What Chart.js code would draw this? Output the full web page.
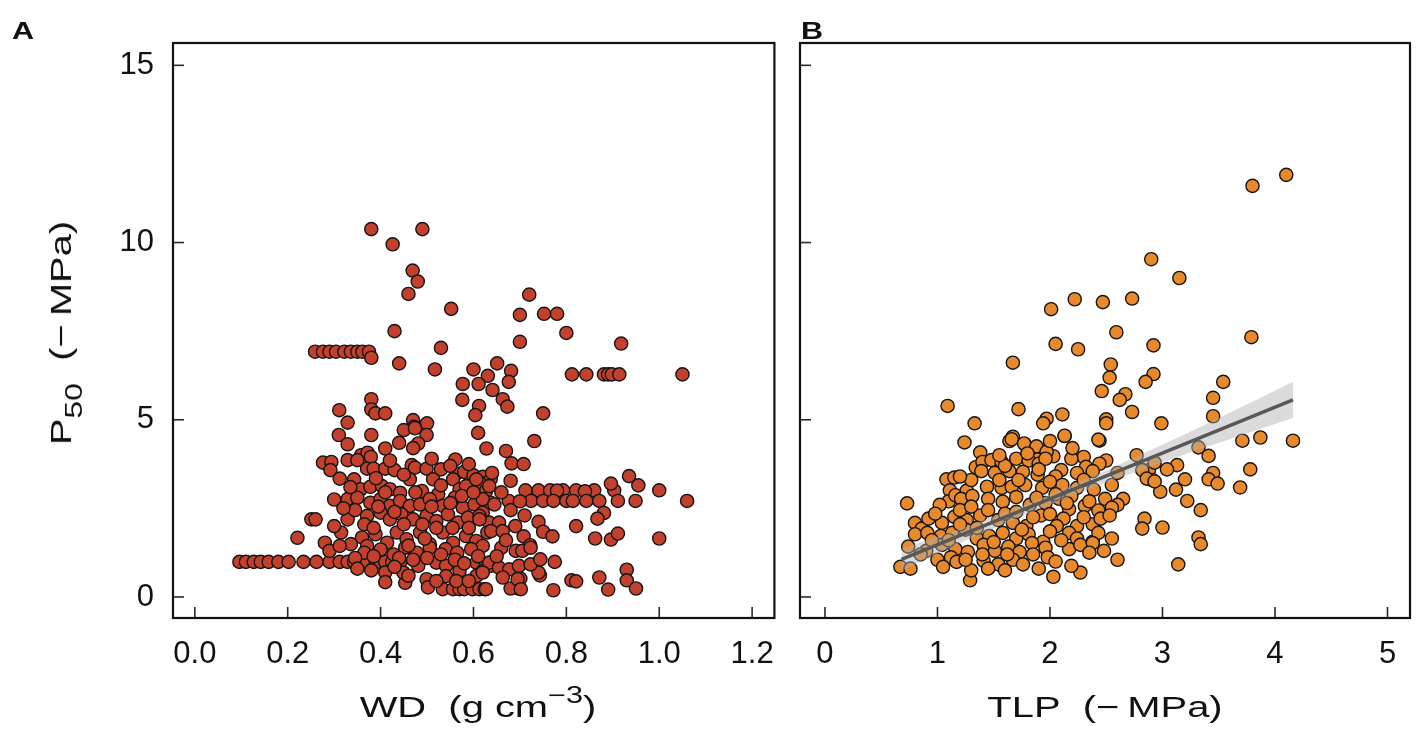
<!DOCTYPE html>
<html>
<head>
<meta charset="utf-8">
<script src="https://cdn.jsdelivr.net/npm/chart.js@4.4.1/dist/chart.umd.min.js"></script>
<style>
  html, body { margin: 0; padding: 0; background: #fff; }
  body { width: 1421px; height: 750px; position: relative; overflow: hidden; font-family: "Liberation Sans", Arial, sans-serif; color: #111; }
  .panel { position: absolute; top: 0; height: 750px; }
  #wrapA { left: 0; width: 792px; }
  #wrapB { left: 792px; width: 629px; }
  .tag { position: absolute; font-weight: bold; font-size: 23px; line-height: 23px; transform: scaleX(1.33); transform-origin: left top; }
  .axt { position: absolute; font-size: 30px; line-height: 30px; white-space: nowrap; }
  .axt sub { font-size: 24px; line-height: 0; vertical-align: -11px; }
  .axt sup { font-size: 23px; line-height: 0; vertical-align: 14px; }
</style>
</head>
<body>
<div class="panel" id="wrapA"><canvas id="chartA"></canvas></div>
<div class="panel" id="wrapB"><canvas id="chartB"></canvas></div>

<div class="tag" style="left:12px; top:20px;">A</div>
<div class="tag" style="left:801px; top:20px;">B</div>
<div class="axt" style="left:61px; top:333px; transform:translate(-50%,-50%) rotate(-90deg) scaleX(1.33);">P<sub>50</sub>&nbsp;&nbsp;(−&thinsp;MPa)</div>
<div class="axt" style="left:478px; top:692px; transform:translateX(-50%) scaleX(1.33);">WD&nbsp;&nbsp;(g cm<sup>−3</sup>)</div>
<div class="axt" style="left:1105px; top:692px; transform:translateX(-50%) scaleX(1.33);">TLP&nbsp;&nbsp;(−&thinsp;MPa)</div>

<script>
// ---- panel A: wood density vs P50 ----
const wdX = [
  0.38, 0.49, 0.426, 0.469, 0.48, 0.46, 0.552, 0.72, 0.70, 0.752, 0.78, 0.80, 0.43, 0.70, 0.53, 0.918,
  0.259, 0.276, 0.29, 0.304, 0.322, 0.336, 0.35, 0.361, 0.375, 0.38,
  0.44, 0.517, 0.60, 0.651, 0.681, 0.676, 0.631, 0.611, 0.577, 0.641, 0.576, 0.612, 0.604, 0.663, 0.673, 0.75,
  0.812, 0.843, 0.881, 0.89, 0.898, 0.914, 1.05,
  0.38, 0.38, 0.389, 0.41, 0.311, 0.329, 0.47, 0.472, 0.50, 0.45, 0.474, 0.499, 0.481, 0.61, 0.31, 0.329,
  0.38, 0.41, 0.628, 0.731, 0.67, 0.682, 0.708, 0.935, 0.955, 1.0, 1.06, 0.561, 0.358, 0.372, 0.379,
  0.276, 0.294, 0.292, 0.312, 0.329, 0.30, 0.251, 0.26, 0.221,
  0.096, 0.11, 0.127, 0.142, 0.159, 0.18, 0.202, 0.234, 0.262, 0.29, 0.312, 0.329, 0.343, 0.36, 0.371, 0.39, 0.40, 0.41, 0.425, 0.442,
  0.68, 0.712, 0.74, 0.765, 0.793, 0.821, 0.86, 0.903, 0.896, 0.78, 0.84,
  0.62, 0.676, 0.724, 0.75, 0.772, 0.8, 0.814, 0.843, 0.871, 0.911, 0.949,
  0.881, 0.867, 0.821, 0.862, 0.896, 0.911, 1.0, 0.74, 0.75, 0.77, 0.708, 0.722, 0.775, 0.743, 0.701, 0.697,
  0.68, 0.772, 0.811, 0.821, 0.871, 0.93, 0.93, 0.89, 0.95,
  0.35, 0.371, 0.385, 0.41, 0.43, 0.467, 0.474, 0.499, 0.53, 0.563, 0.58, 0.60, 0.62, 0.637,
  0.343, 0.357, 0.378, 0.403, 0.42, 0.442, 0.463, 0.489, 0.513, 0.524, 0.556, 0.57, 0.584, 0.613, 0.627,
  0.329, 0.35, 0.378, 0.40, 0.42, 0.442, 0.463, 0.485, 0.506, 0.534, 0.56, 0.577, 0.602, 0.62, 0.637,
  0.329, 0.371, 0.40, 0.42, 0.445, 0.47, 0.499, 0.52, 0.545, 0.567, 0.588, 0.613, 0.634,
  0.28, 0.315, 0.336, 0.36, 0.389, 0.414, 0.435, 0.456, 0.485, 0.506, 0.534, 0.556, 0.584, 0.606, 0.63,
  0.29, 0.312, 0.371, 0.40, 0.428, 0.453, 0.478, 0.506, 0.52, 0.541, 0.57, 0.606, 0.627, 0.637,
  0.41, 0.41, 0.453, 0.449, 0.481, 0.499, 0.502, 0.534, 0.556, 0.57, 0.58, 0.598, 0.613, 0.624, 0.541, 0.563, 0.606, 0.62, 0.637,
  0.606, 0.634, 0.62, 0.645, 0.613, 0.655, 0.638, 0.663, 0.62, 0.66, 0.691, 0.634, 0.655, 0.677, 0.698, 0.62, 0.663, 0.695, 0.627, 0.702, 0.74, 0.723, 0.705, 0.723, 0.744,
  0.345, 0.365, 0.385, 0.395, 0.41, 0.43, 0.45, 0.46, 0.475, 0.49, 0.495, 0.51, 0.52, 0.53, 0.54, 0.55, 0.555, 0.565, 0.575, 0.59,
  0.595, 0.6, 0.61, 0.365, 0.385, 0.345, 0.3, 0.32, 0.335, 0.44, 0.47, 0.5, 0.53, 0.56, 0.58, 0.35, 0.38, 0.43, 0.46, 0.52,
  0.59, 0.65, 0.67, 0.69, 0.68, 0.66, 0.7, 0.71, 0.64, 0.45, 0.39, 0.42, 0.51, 0.47, 0.44, 0.55, 0.59
];
const wdY = [
  10.38, 10.38, 9.95, 9.21, 8.9, 8.55, 8.13, 8.53, 7.96, 7.99, 7.99, 7.45, 7.5, 7.2, 7.03, 7.15,
  6.92, 6.92, 6.92, 6.92, 6.92, 6.92, 6.92, 6.92, 6.92, 6.75,
  6.59, 6.42, 6.42, 6.59, 6.38, 6.07, 6.24, 6.01, 6.01, 5.84, 5.56, 5.39, 5.13, 5.58, 5.37, 5.18,
  6.28, 6.28, 6.28, 6.28, 6.28, 6.28, 6.28,
  5.58, 5.29, 5.18, 5.18, 5.27, 4.92, 4.99, 4.80, 4.90, 4.71, 4.76, 4.57, 4.33, 4.63, 4.57, 4.31,
  4.57, 4.19, 4.19, 4.40, 4.12, 3.77, 3.75, 3.41, 3.15, 3.01, 2.71, 3.88, 4.0, 4.07, 3.95,
  3.79, 3.81, 3.58, 3.34, 3.86, 2.75, 2.19, 2.19, 1.67,
  0.99, 0.99, 0.99, 0.99, 0.99, 0.99, 0.99, 0.99, 0.99, 0.99, 0.99, 0.99, 0.99, 0.99, 0.99, 0.99, 0.99, 0.99, 0.99, 0.99,
  3.28, 3.01, 3.01, 3.01, 3.01, 3.01, 3.01, 3.01, 3.2, 3.0, 2.98,
  2.71, 2.71, 2.71, 2.71, 2.71, 2.71, 2.71, 2.71, 2.71, 2.71, 2.71,
  2.37, 2.21, 2.0, 1.65, 1.62, 1.79, 1.65, 2.12, 1.84, 1.71, 1.71, 1.46, 0.99, 0.61, 0.52, 0.24,
  0.24, 0.19, 0.47, 0.44, 0.55, 0.77, 0.47, 0.21, 0.24,
  3.86, 3.62, 3.62, 3.62, 3.58, 3.72, 3.65, 3.62, 3.60, 3.48, 3.53, 3.43, 3.39, 3.32,
  3.32, 3.04, 3.11, 3.13, 3.04, 2.94, 3.32, 2.99, 3.32, 2.90, 3.32, 3.04, 3.13, 3.23, 2.99,
  2.76, 2.80, 2.66, 2.76, 2.57, 2.71, 2.57, 2.61, 2.76, 2.57, 2.80, 2.52, 2.61, 2.38, 2.66,
  2.19, 2.29, 2.38, 2.19, 2.33, 2.19, 2.29, 2.14, 2.33, 2.10, 2.24, 2.29, 2.10,
  1.53, 1.82, 1.49, 1.68, 1.77, 1.53, 1.82, 1.63, 1.82, 1.49, 1.82, 1.53, 1.72, 1.58, 1.82,
  1.30, 1.44, 1.44, 1.34, 1.20, 1.39, 1.25, 1.39, 0.97, 0.88, 0.74, 0.97, 0.92, 0.97,
  0.69, 0.42, 0.40, 0.69, 0.88, 0.50, 0.27, 0.22, 0.22, 0.22, 0.22, 0.22, 0.22, 0.22, 0.59, 0.45, 0.59, 0.73, 0.88,
  3.32, 3.13, 2.76, 2.61, 2.19, 2.10, 1.86, 1.86, 1.44, 1.39, 1.30, 0.97, 0.83, 0.78, 0.88, 0.69, 0.55, 0.50, 0.22, 0.22, 0.69, 0.92, 1.30, 1.39, 1.06,
  2.45, 2.05, 1.95, 2.55, 2.95, 2.40, 2.05, 1.45, 2.95, 2.05, 1.65, 2.55, 1.95, 3.15, 1.35, 2.65, 1.95, 1.25, 2.85, 1.95,
  1.35, 2.95, 1.15, 1.25, 1.15, 1.1, 2.0, 2.5, 3.1, 1.1, 1.05, 1.1, 1.2, 1.05, 0.95, 0.8, 0.75, 0.85, 0.6, 0.45,
  0.45, 1.15, 1.6, 2.0, 2.45, 2.95, 2.7, 2.3, 3.5, 3.45, 3.35, 3.85, 3.9, 4.2, 4.35, 3.7, 3.75
];

// ---- panel B: turgor loss point vs P50 ----
const tlpX = [
  4.10, 3.80, 2.90, 3.15, 3.79, 2.92, 2.92, 2.85, 3.54, 3.45, 3.45, 2.99, 3.71, 3.87, 4.16, 3.32, 3.41, 3.78, 3.13, 3.04,
  2.88, 2.93, 3.45, 3.41, 3.49, 3.20, 3.12, 2.98, 2.91, 3.69, 3.22, 3.34, 2.84, 3.00, 3.32, 3.34, 3.14, 2.82,
  2.01, 2.22, 2.47, 2.73, 2.59, 2.05, 2.25, 1.67, 2.54, 2.53, 2.46, 2.67, 2.62, 2.73, 1.09, 1.33, 1.72, 1.97, 1.94, 2.11,
  2.50, 2.50, 1.24, 1.38, 1.34, 1.67, 1.64, 2.13, 2.44, 1.78, 1.88, 1.97, 2.03, 1.89, 2.77, 2.30, 2.50,
  1.08, 1.15, 1.11, 1.10, 0.73, 0.80, 0.67, 0.76, 1.29, 2.03, 2.27,
  1.66, 1.77, 1.88, 1.97, 2.13, 2.43,
  1.40, 1.48, 1.57, 1.70, 1.81, 1.90, 1.96, 2.19, 2.44, 2.32, 2.10,
  1.39, 1.51, 1.64, 1.76, 1.89, 2.05, 2.24, 2.38, 2.60, 2.82, 2.86, 2.93,
  1.16, 1.26, 1.44, 1.57, 1.66, 1.78, 1.93, 2.11, 2.24, 2.39, 2.55, 2.49, 2.65, 2.60,
  1.02, 1.21, 1.31, 1.45, 1.58, 1.70, 1.82, 1.96, 2.08, 2.19, 2.17, 2.31, 2.43, 2.55,
  0.86, 0.92, 1.04, 1.15, 1.26, 1.38, 1.54, 1.67, 1.79, 1.92, 2.00, 2.12, 2.24, 2.38, 2.45, 2.53,
  0.80, 0.91, 1.03, 1.13, 1.25, 1.35, 1.46, 1.58, 1.70, 1.81, 1.94, 2.06, 2.17, 2.24, 2.38, 2.43, 2.55,
  0.74, 0.90, 1.04, 1.16, 1.27, 1.41, 1.51, 1.63, 1.73, 1.84, 1.96, 2.17, 2.27, 2.38,
  1.00, 1.12, 1.17, 1.41, 1.54, 1.67, 1.76, 1.98, 2.19,
  1.20, 1.30, 1.35, 1.45, 1.50, 1.60, 1.62, 1.70, 1.75, 1.85, 1.85, 1.88, 2.00, 2.05, 2.10, 2.15, 2.30, 2.35, 2.48, 2.60,
  1.30, 1.55, 1.72, 2.00, 2.30, 1.10, 0.95, 0.85, 1.05, 1.30, 1.45, 1.60, 1.90, 1.25, 0.98, 1.20, 1.40, 2.05, 2.35, 1.90,
  1.60, 1.20, 1.55, 1.80, 2.20, 2.00
];
const tlpY = [
  11.91, 11.6, 9.53, 9.0, 7.33, 7.10, 6.29, 6.07, 6.07, 5.62, 5.10, 4.90, 4.41, 4.50, 4.41, 4.22, 3.98, 3.60, 3.72, 3.60,
  3.58, 3.79, 3.50, 3.32, 3.20, 3.32, 3.03, 2.97, 3.30, 3.09, 2.71, 2.45, 2.21, 1.96, 1.68, 1.49, 0.92, 1.93,
  8.12, 8.40, 8.32, 8.42, 7.47, 7.14, 6.99, 6.61, 6.56, 6.19, 5.81, 5.72, 5.56, 5.22, 5.39, 4.90, 5.30, 5.03, 4.90, 5.15,
  5.01, 4.90, 4.36, 4.08, 3.66, 4.52, 4.40, 4.54, 4.41, 4.29, 4.21, 4.06, 3.97, 3.88, 4.00, 3.95, 3.85,
  3.32, 3.37, 3.01, 2.70, 2.64, 2.09, 0.85, 0.80, 0.47, 0.57, 0.69,
  4.45, 4.33, 4.25, 4.10, 4.55, 4.44,
  3.81, 3.86, 3.81, 3.90, 3.85, 3.76, 3.90, 3.90, 3.76, 3.67, 3.58,
  3.55, 3.50, 3.55, 3.53, 3.45, 3.40, 3.50, 3.55, 3.50, 3.58, 3.34, 3.26,
  2.87, 3.00, 3.11, 3.08, 3.11, 3.16, 3.08, 3.16, 3.08, 3.03, 3.16, 2.77, 2.77, 2.60,
  2.60, 2.77, 2.85, 2.77, 2.69, 2.82, 2.60, 2.65, 2.77, 2.85, 2.48, 2.57, 2.44, 2.52,
  1.93, 2.21, 2.09, 2.26, 2.17, 2.30, 2.17, 2.09, 2.00, 2.30, 2.34, 2.21, 2.00, 2.05, 2.21, 2.30,
  1.77, 1.81, 1.72, 1.81, 1.90, 1.65, 1.72, 1.81, 1.65, 1.77, 1.56, 2.00, 1.81, 1.65, 1.56, 1.81, 1.65,
  1.42, 1.30, 1.47, 1.35, 1.27, 1.47, 1.30, 1.42, 1.27, 1.52, 1.39, 1.35, 1.47, 1.52,
  1.05, 1.12, 0.99, 1.02, 0.92, 1.05, 0.92, 1.12, 0.88,
  2.45, 2.55, 1.95, 2.45, 1.55, 2.35, 1.20, 2.40, 1.90, 2.25, 1.20, 2.80, 1.85, 2.90, 1.60, 2.65, 2.25, 1.25, 1.30, 1.05,
  3.30, 3.30, 3.30, 3.25, 3.30, 1.60, 1.60, 1.20, 0.85, 0.75, 0.80, 0.75, 0.80, 1.05, 2.35, 2.05, 1.20, 1.00, 2.70, 3.60,
  3.70, 3.40, 4.00, 4.05, 4.20, 4.40
];

// regression line and its confidence band
const fitX = [0.68, 4.16];
const fitY = [1.06, 5.56];
const bandX = [0.68, 1.2, 1.9, 2.5, 3.2, 3.8, 4.16];
const bandUpper = [1.36, 1.92, 2.76, 3.57, 4.59, 5.51, 6.07];
const bandLower = [0.74, 1.52, 2.48, 3.23, 4.03, 4.67, 5.05];

const yTicks = [0, 5, 10, 15];
const xTicksA = [0.0, 0.2, 0.4, 0.6, 0.8, 1.0, 1.2];
const xTicksB = [0, 1, 2, 3, 4, 5];

const FONT = "'Liberation Sans', Arial, Helvetica, sans-serif";

const pairs = (xs, ys) => xs.map((x, i) => ({ x: x, y: ys[i] }));

// box round the plot and short tick marks pointing inwards, like the R figure
const frameTicks = {
  id: 'frameTicks',
  afterDraw(chart) {
    const { ctx, chartArea: a, scales } = chart;
    const len = 11;
    ctx.save();
    ctx.strokeStyle = '#2a2a2a';
    ctx.lineWidth = 1.6;
    scales.x.ticks.forEach(t => {
      const px = scales.x.getPixelForValue(t.value);
      ctx.beginPath();
      ctx.moveTo(px, a.bottom);
      ctx.lineTo(px, a.bottom - len);
      ctx.stroke();
    });
    scales.y.ticks.forEach(t => {
      const py = scales.y.getPixelForValue(t.value);
      ctx.beginPath();
      ctx.moveTo(a.left, py);
      ctx.lineTo(a.left + len, py);
      ctx.stroke();
    });
    ctx.strokeStyle = '#111';
    ctx.lineWidth = 2.2;
    ctx.strokeRect(a.left, a.top, a.right - a.left, a.bottom - a.top);
    ctx.restore();
  }
};

function makeScales(xMin, xMax, xTicks, fmt, yLeft, showYLabels) {
  return {
    x: {
      type: 'linear',
      min: xMin,
      max: xMax,
      afterBuildTicks: s => { s.ticks = xTicks.map(v => ({ value: v })); },
      afterFit: s => { s.height = 132; },
      grid: { display: false, drawTicks: false },
      border: { display: false },
      ticks: {
        padding: 18,
        color: '#111',
        font: { family: FONT, size: 31 },
        maxRotation: 0,
        autoSkip: false,
        callback: v => fmt(v)
      }
    },
    y: {
      type: 'linear',
      min: -0.593,
      max: 15.63,
      afterBuildTicks: s => { s.ticks = yTicks.map(v => ({ value: v })); },
      afterFit: s => { s.width = yLeft; },
      grid: { display: false, drawTicks: false },
      border: { display: false },
      ticks: {
        display: showYLabels,
        padding: 19,
        color: '#111',
        font: { family: FONT, size: 31 },
        autoSkip: false,
        callback: v => String(v)
      }
    }
  };
}

const common = {
  responsive: true,
  maintainAspectRatio: false,
  animation: false,
  plugins: { legend: { display: false }, tooltip: { enabled: false } }
};

new Chart(document.getElementById('chartA'), {
  type: 'scatter',
  data: {
    datasets: [{
      data: pairs(wdX, wdY),
      backgroundColor: '#c2402c',
      borderColor: '#151515',
      borderWidth: 1.4,
      pointRadius: 6.6
    }]
  },
  options: Object.assign({}, common, {
    layout: { padding: { left: 0, right: 9, top: 43, bottom: 0 } },
    scales: makeScales(-0.047, 1.248, xTicksA, v => v.toFixed(1), 173, true)
  }),
  plugins: [frameTicks]
});

new Chart(document.getElementById('chartB'), {
  type: 'scatter',
  data: {
    datasets: [
      {
        data: pairs(tlpX, tlpY),
        backgroundColor: '#e8892b',
        borderColor: '#151515',
        borderWidth: 1.4,
        pointRadius: 6.6,
        order: 3
      },
      {
        type: 'line',
        data: pairs(bandX, bandUpper),
        fill: '+1',
        backgroundColor: 'rgba(175, 175, 175, 0.45)',
        borderWidth: 0,
        pointRadius: 0,
        tension: 0,
        order: 2
      },
      {
        type: 'line',
        data: pairs(bandX, bandLower),
        fill: false,
        borderWidth: 0,
        pointRadius: 0,
        tension: 0,
        order: 2
      },
      {
        type: 'line',
        data: pairs(fitX, fitY),
        fill: false,
        borderColor: '#585858',
        borderWidth: 3.4,
        pointRadius: 0,
        tension: 0,
        order: 1
      }
    ]
  },
  options: Object.assign({}, common, {
    layout: { padding: { left: 0, right: 11, top: 43, bottom: 0 } },
    scales: makeScales(-0.222, 5.2, xTicksB, v => String(v), 8, false)
  }),
  plugins: [frameTicks]
});
</script>
</body>
</html>
